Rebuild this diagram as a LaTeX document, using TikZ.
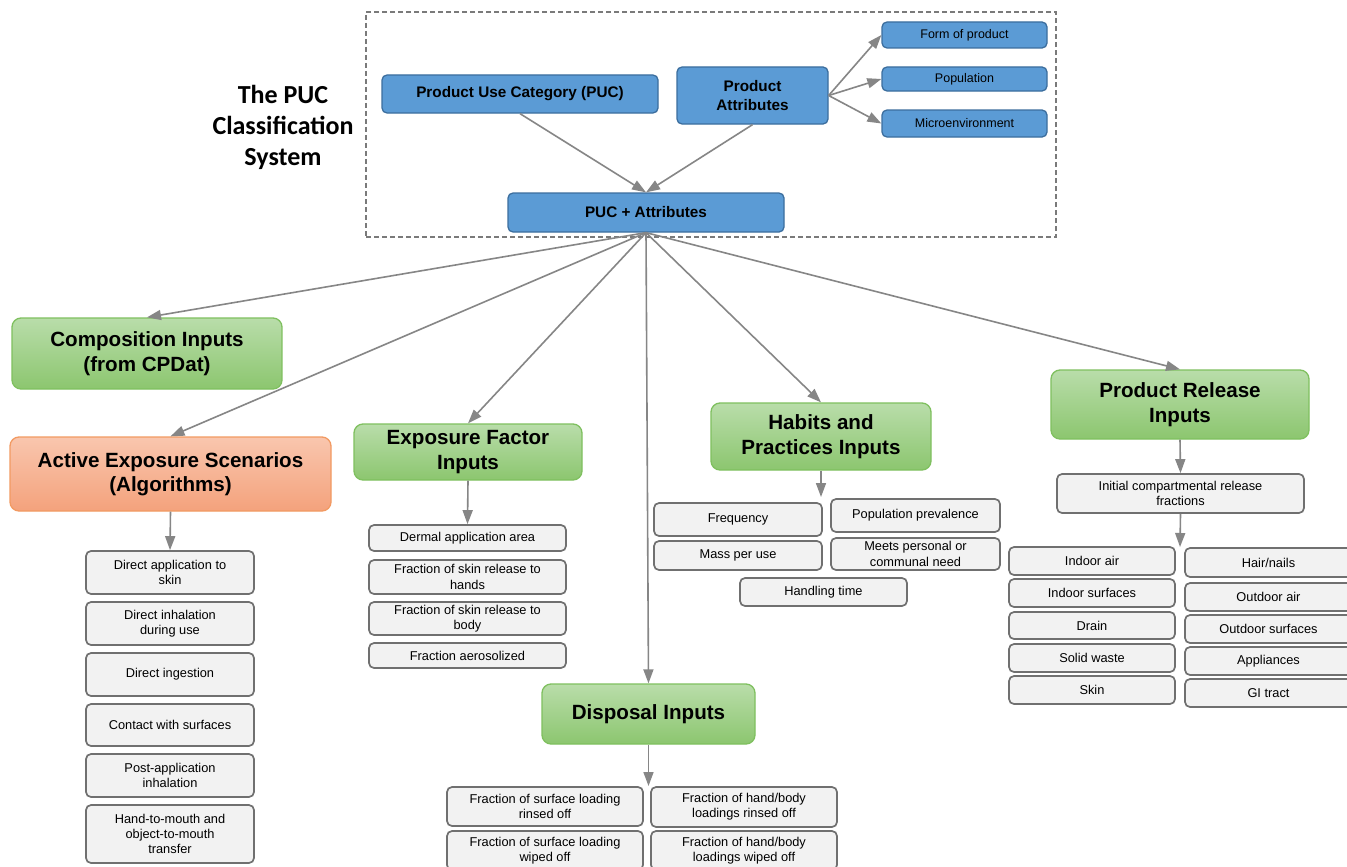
\documentclass[tikz,border=0pt]{standalone}
\usepackage{fontspec}
\setmainfont{Liberation Sans}
\newfontfamily\titlefont{Carlito}
\usetikzlibrary{arrows.meta}
\definecolor{bluefill}{HTML}{5B9BD5}
\definecolor{blueline}{HTML}{3C6E9E}
\definecolor{greentop}{HTML}{B9DDAA}
\definecolor{greenbot}{HTML}{8CC66F}
\definecolor{greenline}{HTML}{7FC05F}
\definecolor{orangetop}{HTML}{F9C6AE}
\definecolor{orangebot}{HTML}{F4A27C}
\definecolor{orangeline}{HTML}{F29A62}
\definecolor{grayfill}{HTML}{F2F2F2}
\definecolor{grayline}{HTML}{707070}
\definecolor{arrowgray}{HTML}{868686}
\definecolor{framegray}{HTML}{7A7A7A}
\newcommand{\mybox}[7]{\node[#2, minimum width=#5pt, minimum height=#6pt] (#1) at (#3,#4) {#7};}
\begin{document}
\begin{tikzpicture}[x=1pt,y=-1pt,
  bluebox/.style={draw=blueline, fill=bluefill, line width=1.3pt, rounded corners=5pt, inner sep=0pt, align=center, font=\fontsize{12.5}{14}\selectfont},
  bluehead/.style={bluebox, font=\bfseries\fontsize{15.3}{18.5}\selectfont},
  greenbox/.style={draw=greenline, top color=greentop, bottom color=greenbot, line width=1.3pt, rounded corners=9pt, inner sep=0pt, align=center, font=\bfseries\fontsize{20.6}{24.5}\selectfont},
  orangebox/.style={greenbox, draw=orangeline, top color=orangetop, bottom color=orangebot},
  graybox/.style={draw=grayline, fill=grayfill, line width=1.7pt, rounded corners=5pt, inner sep=0pt, align=center, font=\fontsize{12.8}{15.3}\selectfont},
  frame/.style={draw=framegray, line width=1.5pt, dash pattern=on 5pt off 3pt, inner sep=0pt},
  arr/.style={draw=arrowgray, line width=1.6pt, -{Triangle[length=14pt,width=10pt]}}
]
\useasboundingbox (0,0) rectangle (1347,867);
\fill[white] (0,0) rectangle (1347,867);

% frame and title
\node[frame, minimum width=690pt, minimum height=225pt] (frm) at (711,124.5) {};
\node[align=center, font=\titlefont\bfseries\fontsize{26}{31}\selectfont] (title) at (283,127) {The PUC\\Classification\\System};

% blue boxes
\mybox{puc}{bluehead}{520}{94}{276}{38}{Product Use Category (PUC)}
\mybox{pa}{bluehead}{752.5}{95.5}{151}{57}{Product\\Attributes}
\mybox{form}{bluebox}{964.5}{35}{165}{26}{Form of product}
\mybox{pop}{bluebox}{964.5}{79}{165}{24}{Population}
\mybox{micro}{bluebox}{964.5}{123.5}{165}{27}{Microenvironment}
\mybox{pucattr}{bluehead}{646}{212.5}{276}{39}{PUC + Attributes}

% green / orange boxes
\mybox{comp}{greenbox}{147}{353.5}{270}{71}{Composition Inputs\\(from CPDat)}
\mybox{act}{orangebox}{170.5}{474}{321}{74}{Active Exposure Scenarios\\(Algorithms)}
\mybox{ef}{greenbox}{468}{452}{228}{56}{Exposure Factor\\Inputs}
\mybox{hab}{greenbox}{821}{436.5}{220}{67}{Habits and\\Practices Inputs}
\mybox{disp}{greenbox}{648.5}{714}{213}{60}{Disposal Inputs}
\mybox{pr}{greenbox}{1180}{404.5}{258}{69}{Product Release\\Inputs}

% active exposure items
\mybox{a1}{graybox}{170}{572.5}{168}{43}{Direct application to\\skin}
\mybox{a2}{graybox}{170}{623.5}{168}{43}{Direct inhalation\\during use}
\mybox{a3}{graybox}{170}{674.5}{168}{43}{Direct ingestion}
\mybox{a4}{graybox}{170}{725}{168}{42}{Contact with surfaces}
\mybox{a5}{graybox}{170}{775.5}{168}{43}{Post-application\\inhalation}
\mybox{a6}{graybox}{170}{834}{168}{58}{Hand-to-mouth and\\object-to-mouth\\transfer}

% exposure factor items
\mybox{e1}{graybox}{467.5}{538}{197}{26}{Dermal application area}
\mybox{e2}{graybox}{467.5}{577}{197}{34}{Fraction of skin release to\\hands}
\mybox{e3}{graybox}{467.5}{618.5}{197}{33}{Fraction of skin release to\\body}
\mybox{e4}{graybox}{467.5}{655.5}{197}{25}{Fraction aerosolized}

% habits items
\mybox{h1}{graybox}{738}{519.5}{168}{33}{Frequency}
\mybox{h2}{graybox}{915.5}{515.5}{169}{33}{Population prevalence}
\mybox{h3}{graybox}{738}{555.5}{168}{29}{Mass per use}
\mybox{h4}{graybox}{915.5}{554}{169}{32}{Meets personal or\\communal need}
\mybox{h5}{graybox}{823.5}{592}{167}{28}{Handling time}

% product release items
\mybox{init}{graybox}{1180.5}{493.5}{247}{39}{Initial compartmental release\\fractions}
\mybox{r1}{graybox}{1092}{561}{166}{28}{Indoor air}
\mybox{r2}{graybox}{1092}{593}{166}{28}{Indoor surfaces}
\mybox{r3}{graybox}{1092}{625.5}{166}{27}{Drain}
\mybox{r4}{graybox}{1092}{658}{166}{28}{Solid waste}
\mybox{r5}{graybox}{1092}{690}{166}{28}{Skin}
\mybox{s1}{graybox}{1268.5}{562.5}{167}{29}{Hair/nails}
\mybox{s2}{graybox}{1268.5}{597}{167}{28}{Outdoor air}
\mybox{s3}{graybox}{1268.5}{629}{167}{28}{Outdoor surfaces}
\mybox{s4}{graybox}{1268.5}{661}{167}{28}{Appliances}
\mybox{s5}{graybox}{1268.5}{693}{167}{28}{GI tract}

% disposal items
\mybox{d1}{graybox}{545}{806.5}{196}{39}{Fraction of surface loading\\rinsed off}
\mybox{d2}{graybox}{545}{850.5}{196}{39}{Fraction of surface loading\\wiped off}
\mybox{d3}{graybox}{744}{807}{186}{40}{Fraction of hand/body\\loadings rinsed off}
\mybox{d4}{graybox}{744}{850.5}{186}{39}{Fraction of hand/body\\loadings wiped off}

% free arrow ends
\coordinate (habend) at (821,497);
\coordinate (prend) at (1180,547);
\coordinate (dispend) at (648.5,786);

% arrows
\draw[arr] (puc.south) -- (pucattr.north);
\draw[arr] (pa.south) -- (pucattr.north);
\draw[arr] (pa.east) -- (form.west);
\draw[arr] (pa.east) -- (pop.west);
\draw[arr] (pa.east) -- (micro.west);
\draw[arr] (pucattr.south) -- (comp.north);
\draw[arr] (pucattr.south) -- (act.north);
\draw[arr] (pucattr.south) -- (ef.north);
\draw[arr] (pucattr.south) -- (disp.north);
\draw[arr] (pucattr.south) -- (hab.north);
\draw[arr] (pucattr.south) -- (pr.north);
\draw[arr] (act.south) -- (a1.north);
\draw[arr] (ef.south) -- (e1.north);
\draw[arr] (hab.south) -- (habend);
\draw[arr] (pr.south) -- (init.north);
\draw[arr] (init.south) -- (prend);
\draw[arr] (disp.south) -- (dispend);
\end{tikzpicture}
\end{document}
